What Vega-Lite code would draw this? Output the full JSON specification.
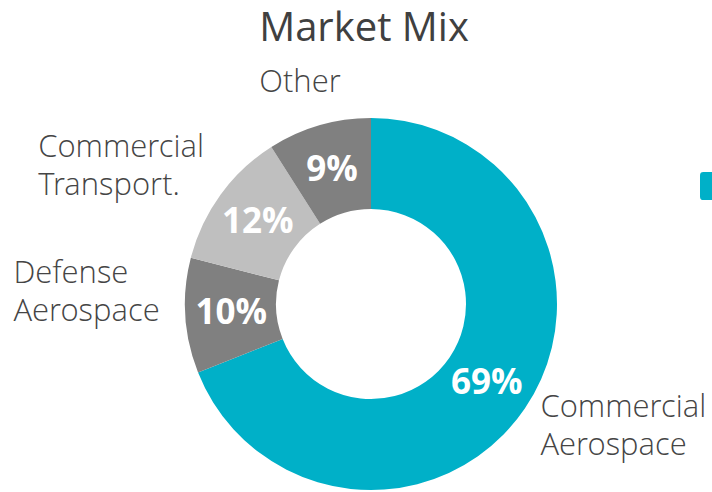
{
  "$schema": "https://vega.github.io/schema/vega-lite/v6.json",
  "width": 682,
  "height": 376,
  "autosize": {"type": "none"},
  "padding": {"left": 30, "top": 116, "right": 0, "bottom": 0},
  "title": {"text": "Market Mix", "fontSize": 40, "font": "Open Sans", "fontWeight": 400, "color": "#404040", "anchor": "middle", "dx": -7, "offset": 4},
  "config": {"view": {"stroke": null}},
  "data": {"values": [
    {"cat": "Commercial Aerospace", "value": 69, "rank": 1, "label": "Commercial\nAerospace", "pct": "69%"},
    {"cat": "Defense Aerospace", "value": 10, "rank": 2, "label": "Defense\nAerospace", "pct": "10%"},
    {"cat": "Commercial Transport.", "value": 12, "rank": 3, "label": "Commercial\nTransport.", "pct": "12%"},
    {"cat": "Other", "value": 9, "rank": 4, "label": "Other", "pct": "9%"}
  ]},
  "encoding": {
    "theta": {"field": "value", "type": "quantitative", "stack": true},
    "order": {"field": "rank", "type": "quantitative"},
    "detail": {"field": "cat", "type": "nominal"}
  },
  "layer": [
    {
      "mark": {"type": "arc", "outerRadius": 186, "innerRadius": 95, "strokeWidth": 0},
      "encoding": {
        "color": {"field": "cat", "type": "nominal",
          "scale": {"domain": ["Commercial Aerospace", "Defense Aerospace", "Commercial Transport.", "Other"], "range": ["#00B0C8", "#808080", "#BFBFBF", "#808080"]},
          "legend": {"values": ["Commercial Aerospace"], "orient": "none", "legendX": 670, "legendY": 56, "title": null, "labelExpr": "''", "symbolType": "M-0.76,-1L0.76,-1Q1,-1,1,-0.76L1,0.76Q1,1,0.76,1L-0.76,1Q-1,1,-1,0.76L-1,-0.76Q-1,-1,-0.76,-1Z", "symbolSize": 784, "symbolStrokeWidth": 0, "symbolOpacity": 1, "padding": 0}}
      }
    },
    {
      "mark": {"type": "text", "radius": 140, "font": "Open Sans", "fontWeight": "bold", "fontSize": 35, "color": "#FFFFFF", "align": "center", "baseline": "middle"},
      "encoding": {"text": {"field": "pct", "type": "nominal"}}
    },
    {
      "mark": {"type": "text", "radius": 215, "font": "'Open Sans Light', 'Open Sans'", "fontWeight": 300, "fontSize": 31, "color": "#454545", "align": "center", "baseline": "alphabetic", "dx": -11, "dy": -6, "lineBreak": "\n", "lineHeight": 38},
      "encoding": {"text": {"condition": {"test": "datum.cat === 'Other'", "field": "label", "type": "nominal"}, "value": ""}}
    },
    {
      "mark": {"type": "text", "radius": 200, "font": "'Open Sans Light', 'Open Sans'", "fontWeight": 300, "fontSize": 31, "color": "#454545", "align": "left", "baseline": "alphabetic", "dx": -171, "dy": -29, "lineBreak": "\n", "lineHeight": 38},
      "encoding": {"text": {"condition": {"test": "datum.cat === 'Commercial Transport.'", "field": "label", "type": "nominal"}, "value": ""}}
    },
    {
      "mark": {"type": "text", "radius": 200, "font": "'Open Sans Light', 'Open Sans'", "fontWeight": 300, "fontSize": 31, "color": "#454545", "align": "left", "baseline": "alphabetic", "dx": -158, "dy": -34, "lineBreak": "\n", "lineHeight": 38},
      "encoding": {"text": {"condition": {"test": "datum.cat === 'Defense Aerospace'", "field": "label", "type": "nominal"}, "value": ""}}
    },
    {
      "mark": {"type": "text", "radius": 200, "font": "'Open Sans Light', 'Open Sans'", "fontWeight": 300, "fontSize": 31, "color": "#454545", "align": "left", "baseline": "alphabetic", "dx": 4, "dy": 1, "lineBreak": "\n", "lineHeight": 38},
      "encoding": {"text": {"condition": {"test": "datum.cat === 'Commercial Aerospace'", "field": "label", "type": "nominal"}, "value": ""}}
    }
  ]
}
